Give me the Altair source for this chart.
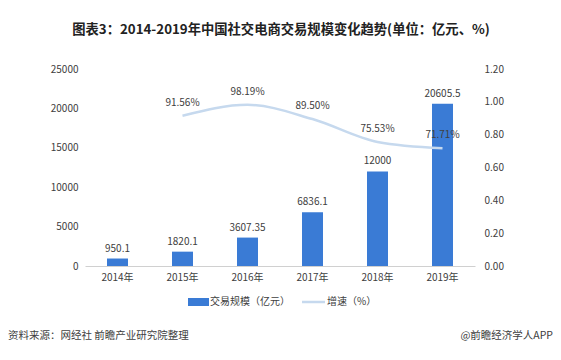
import altair as alt
import pandas as pd

years = ["2014年", "2015年", "2016年", "2017年", "2018年", "2019年"]
scale_values = [950.1, 1820.1, 3607.35, 6836.1, 12000, 20605.5]
scale_labels = ["950.1", "1820.1", "3607.35", "6836.1", "12000", "20605.5"]
growth = [None, 0.9156, 0.9819, 0.8950, 0.7553, 0.7171]
growth_labels = ["", "91.56%", "98.19%", "89.50%", "75.53%", "71.71%"]
left_ticks = [0, 5000, 10000, 15000, 20000, 25000]
right_ticks = [0, 0.2, 0.4, 0.6, 0.8, 1.0, 1.2]

title_text = "图表3：2014-2019年中国社交电商交易规模变化趋势(单位：亿元、%)"
source_text = "资料来源：网经社 前瞻产业研究院整理"
brand_text = "@前瞻经济学人APP"
legend_labels = ["交易规模（亿元）", "增速（%）"]

FONT = "Noto Sans CJK SC"
BAR = "#3a7bd5"
LINE = "#c6d9ee"
TXT = "#404040"

df = pd.DataFrame({"year": years, "v": scale_values, "vl": scale_labels,
                   "g": growth, "gl": growth_labels})
dg = df.dropna(subset=["g"])

W, H = 390, 197
xenc = alt.X("year:N", sort=years, title=None,
             scale=alt.Scale(paddingInner=0.0, paddingOuter=0.0),
             axis=alt.Axis(labelAngle=0, labelFont=FONT, labelFontSize=10, labelColor=TXT,
                           domainColor="#d0d0d0", ticks=False, labelPadding=6))

yl = alt.Y("v:Q", title=None,
           scale=alt.Scale(domain=[0, 25000], nice=False),
           axis=alt.Axis(values=left_ticks, grid=False, domain=False,
                         ticks=False, labelFont=FONT, labelFontSize=10, labelColor=TXT,
                         labelPadding=7, format="d", labelOverlap=False, labelBound=False))
base_l = alt.Chart(df).encode(x=xenc, y=yl)
left = alt.layer(
    base_l.mark_bar(size=21, color=BAR),
    base_l.mark_text(dy=-10, font=FONT, fontSize=10, color=TXT).encode(text="vl:N"),
)

yr = alt.Y("g:Q", title=None,
           scale=alt.Scale(domain=[0, 1.2], nice=False),
           axis=alt.Axis(orient="right", values=right_ticks, format=".2f",
                         grid=False, domain=False, ticks=False, labelFont=FONT, labelFontSize=10,
                         labelColor=TXT, labelPadding=9, labelOverlap=False, labelBound=False))
base_r = alt.Chart(dg).encode(x=xenc, y=yr)
right = alt.layer(
    base_r.mark_line(color=LINE, strokeWidth=2.5, interpolate="monotone"),
    base_r.mark_text(dy=-13, font=FONT, fontSize=10, color=TXT).encode(text="gl:N"),
)

main = alt.layer(left, right).resolve_scale(y="independent")

one = pd.DataFrame({"t": [title_text]})
title = alt.Chart(one).mark_text(font=FONT, fontSize=13.3, fontWeight="bold", color="#222",
                                 baseline="middle", align="center").encode(
    x=alt.value(196), y=alt.value(-39), text="t:N")

foot = pd.DataFrame({"t": [source_text]})
src = alt.Chart(foot).mark_text(font=FONT, fontSize=10.5, color=TXT, align="left",
                                baseline="middle").encode(
    x=alt.value(-77), y=alt.value(267), text="t:N")
br = pd.DataFrame({"t": [brand_text]})
brand = alt.Chart(br).mark_text(font=FONT, fontSize=10.5, color=TXT, align="right",
                                baseline="middle").encode(
    x=alt.value(468), y=alt.value(267), text="t:N")

lg1 = pd.DataFrame({"t": [legend_labels[0]]})
lg2 = pd.DataFrame({"t": [legend_labels[1]]})
sw1 = alt.Chart(lg1).mark_rect(color=BAR).encode(
    x=alt.value(103), x2=alt.value(124), y=alt.value(229), y2=alt.value(237))
lt1 = alt.Chart(lg1).mark_text(font=FONT, fontSize=10, color=TXT, align="left",
                               baseline="middle").encode(
    x=alt.value(125), y=alt.value(233), text="t:N")
sw2 = alt.Chart(lg2).mark_rule(color=LINE, strokeWidth=2.5).encode(
    x=alt.value(217), x2=alt.value(240), y=alt.value(233))
lt2 = alt.Chart(lg2).mark_text(font=FONT, fontSize=10, color=TXT, align="left",
                               baseline="middle").encode(
    x=alt.value(242), y=alt.value(233), text="t:N")

chart = alt.layer(main, title, src, brand, sw1, lt1, sw2, lt2).properties(
    width=W, height=H,
    padding={"left": 77, "top": 61, "right": 78, "bottom": 86},
    autosize=alt.AutoSizeParams(type="none"),
    background="white",
).configure_view(stroke=None)

chart.save("out.html", embed_options={"renderer": "svg", "actions": False})
